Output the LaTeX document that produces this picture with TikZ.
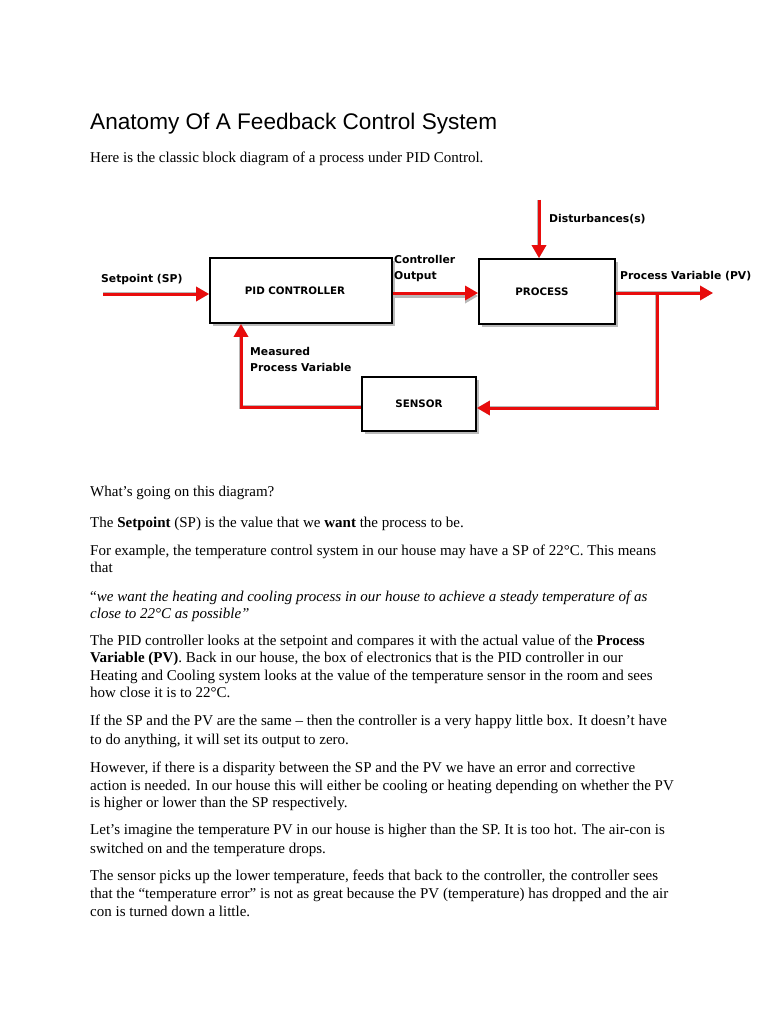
\documentclass[tikz,border=0pt]{standalone}
\usepackage{fontspec}
\setmainfont{Liberation Serif}
\newfontfamily\arialf{Liberation Sans}
\newfontfamily\verdf{DejaVu Sans}
\usetikzlibrary{arrows.meta,shadows}
\definecolor{arrred}{RGB}{232,12,12}
\begin{document}
\begin{tikzpicture}[x=1pt,y=-1pt,
  ln/.style={anchor=base west,inner sep=0pt,font=\fontsize{15}{17}\selectfont},
  blk/.style={draw=black,line width=1.8pt,fill=white,inner sep=0pt,
    font=\verdf\bfseries\fontsize{10.3}{12}\selectfont,
    drop shadow={shadow xshift=3pt,shadow yshift=-3pt,fill=black!45,opacity=0.6}},
  lbl/.style={anchor=west,inner sep=0pt,align=left,font=\verdf\bfseries\fontsize{10.8}{16}\selectfont},
  flow/.style={draw=arrred,line width=3pt,-{Triangle[length=13pt,width=14pt]}},
  shadarr/.style={draw=black!28,line width=3.4pt,shift={(2pt,-3pt)},-{Triangle[length=13pt,width=14pt]}}
]
\useasboundingbox[fill=white] (0,0) rectangle (768,1024);

% title and intro
\node[anchor=base west,inner sep=0pt,font=\arialf\fontsize{22.6}{26}\selectfont] (title) at (90,130) {Anatomy Of A Feedback Control System};
\node[ln] (intro) at (90,163) {Here is the classic block diagram of a process under PID Control.};

% blocks
\node[blk,minimum width=182pt,minimum height=65pt] (pid) at (301,290.5) {\hspace*{-12pt}PID CONTROLLER};
\node[blk,minimum width=136pt,minimum height=65pt] (proc) at (547,291.5) {\hspace*{-10pt}PROCESS};
\node[blk,minimum width=114pt,minimum height=54pt] (sens) at (419,404) {SENSOR};

% free ends
\coordinate (sp) at (103,294);
\coordinate (dist) at (539,200);
\coordinate (pvend) at (713,293);
\coordinate (br) at (657,293);
\coordinate (brdown) at (657,408);
\coordinate (fbx) at (241,407);

% shadows of connectors
\draw[shadarr] (sp) -- (sp -| pid.west);
\draw[shadarr] (pid.east |- 0,293) -- (proc.west |- 0,293);
\draw[shadarr] (dist) -- (dist |- proc.north);
\draw[shadarr] (proc.east |- pvend) -- (pvend);
\draw[shadarr] (br) -- (brdown) -- (brdown -| sens.east);
\draw[shadarr] (sens.west |- fbx) -- (fbx) -- (fbx |- pid.south);

% connectors
\draw[flow] (sp) -- (sp -| pid.west);
\draw[flow] (pid.east |- 0,293) -- (proc.west |- 0,293);
\draw[flow] (dist) -- (dist |- proc.north);
\draw[flow] (proc.east |- pvend) -- (pvend);
\draw[flow] (br) -- (brdown) -- (brdown -| sens.east);
\draw[flow] (sens.west |- fbx) -- (fbx) -- (fbx |- pid.south);

% diagram labels
\node[lbl] (lsp) at (101,280) {Setpoint (SP)};
\node[lbl] (lco) at (394,269) {Controller\\Output};
\node[lbl] (ldist) at (549,219) {Disturbances(s)};
\node[lbl] (lpv) at (620,276) {Process Variable (PV)};
\node[lbl] (lmpv) at (250,359) {Measured\\Process Variable};

% body text
\node[ln] (t1) at (90,496) {What’s going on this diagram?};
\node[ln] (t2) at (90,527) {The \textbf{Setpoint} (SP) is the value that we \textbf{want} the process to be.};
\node[ln] (t3) at (90,555) {For example, the temperature control system in our house may have a SP of 22°C. This means};
\node[ln] (t4) at (90,572) {that};
\node[ln] (t5) at (90,601) {“\textit{we want the heating and cooling process in our house to achieve a steady temperature of as}};
\node[ln] (t6) at (90,618) {\textit{close to 22°C as possible”}};
\node[ln] (t7) at (90,645) {The PID controller looks at the setpoint and compares it with the actual value of the \textbf{Process}};
\node[ln] (t8) at (90,662) {\textbf{Variable (PV)}. Back in our house, the box of electronics that is the PID controller in our};
\node[ln] (t9) at (90,680) {Heating and Cooling system looks at the value of the temperature sensor in the room and sees};
\node[ln] (t10) at (90,697) {how close it is to 22°C.};
\node[ln] (t11) at (90,725) {If the SP and the PV are the same – then the controller is a very happy little box. It doesn’t have};
\node[ln] (t12) at (90,744) {to do anything, it will set its output to zero.};
\node[ln] (t13) at (90,772) {However, if there is a disparity between the SP and the PV we have an error and corrective};
\node[ln] (t14) at (90,790) {action is needed. In our house this will either be cooling or heating depending on whether the PV};
\node[ln] (t15) at (90,807) {is higher or lower than the SP respectively.};
\node[ln] (t16) at (90,834) {Let’s imagine the temperature PV in our house is higher than the SP. It is too hot. The air-con is};
\node[ln] (t17) at (90,853) {switched on and the temperature drops.};
\node[ln] (t18) at (90,880) {The sensor picks up the lower temperature, feeds that back to the controller, the controller sees};
\node[ln] (t19) at (90,898) {that the “temperature error” is not as great because the PV (temperature) has dropped and the air};
\node[ln] (t20) at (90,916) {con is turned down a little.};
\end{tikzpicture}
\end{document}
